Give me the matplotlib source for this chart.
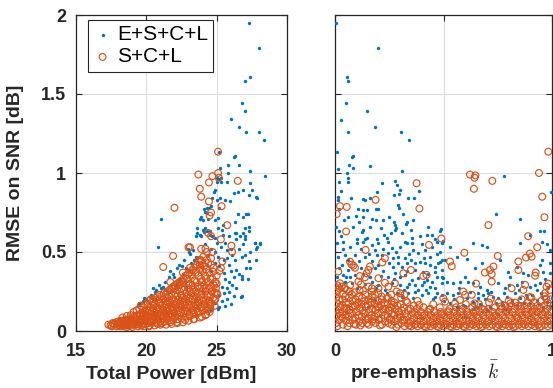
import matplotlib
matplotlib.use("Agg")
import matplotlib.pyplot as plt

plt.rcParams['font.family'] = ['Liberation Sans', 'DejaVu Sans']
plt.rcParams['mathtext.fontset'] = 'cm'

BLUE = '#0072BD'
ORANGE = '#D95319'

# ---------------- data: left panel (Total Power [dBm], RMSE [dB]) ----------------
left_blue = [
 (27.3,1.95),(28.0,1.79),(27.4,1.61),(27.0,1.58),(26.8,1.44),(27.0,1.39),(26.0,1.34),(26.6,1.29),
 (27.1,1.26),(28.0,1.26),(28.4,1.21),(25.2,1.13),(26.2,1.10),(26.3,1.11),(25.8,1.05),(26.6,1.05),
 (25.25,1.03),(25.8,1.00),(27.4,1.01),(28.45,0.98),(25.0,0.97),(25.15,0.965),(25.3,0.97),(25.0,0.94),
 (25.3,0.94),(25.75,0.94),(27.4,0.935),(26.9,0.89),(27.5,0.89),(26.2,0.875),(26.5,0.88),(27.3,0.86),
 (27.85,0.84),(24.8,0.88),(24.85,0.89),(24.7,0.84),(25.0,0.83),(25.25,0.84),(25.6,0.83),(25.95,0.82),
 (24.6,0.79),(25.2,0.78),(24.3,0.78),(24.45,0.78),(24.1,0.77),(24.15,0.755),(24.3,0.745),(26.5,0.74),
 (26.85,0.72),(27.2,0.74),(23.9,0.72),(23.85,0.71),(24.0,0.70),(24.4,0.71),(25.1,0.715),(24.9,0.70),
 (23.6,0.65),(24.05,0.64),(24.2,0.65),(24.55,0.63),(26.3,0.69),(26.3,0.62),(26.65,0.60),(27.3,0.63),
 (27.0,0.58),(25.45,0.67),(25.35,0.64),(25.1,0.65),(23.5,0.60),(23.9,0.60),(24.7,0.60),
 (21.05,0.71),(20.85,0.53),(26.75,0.215),(27.8,0.85),(28.1,0.56),(27.75,0.56),(27.9,0.53),(27.1,0.74),
 (27.0,0.65),(27.3,0.66),(27.4,0.40),(26.8,0.47),(27.0,0.48),(25.2,0.15),(19.5,0.165),
 (23.6,0.62),(23.85,0.61),(24.1,0.625),(24.3,0.63),(24.5,0.61),(24.85,0.59),(25.0,0.56),(25.45,0.61),
 (25.9,0.60),(26.4,0.58),(26.4,0.62),(26.9,0.62),(27.0,0.60),(27.7,0.56),(28.1,0.55),(27.8,0.52),
 (23.0,0.50),(23.1,0.49),(22.95,0.52),(23.3,0.51),(23.55,0.47),(23.4,0.45),(22.3,0.42),(22.5,0.41),
 (22.2,0.40),(22.8,0.40),(21.7,0.38),(21.9,0.36),(21.6,0.34),(22.0,0.34),(20.9,0.29),(21.2,0.28),
 (21.05,0.27),(21.4,0.26),(20.7,0.26),(20.6,0.25),(20.5,0.27),(19.75,0.19),(19.5,0.18),(19.95,0.20),
 (19.85,0.21),(20.4,0.21),(25.7,0.51),(26.1,0.48),(26.3,0.45),(25.5,0.45),(25.85,0.42),(26.4,0.385),
 (26.6,0.36),(26.8,0.35),(26.2,0.34),(25.6,0.33),(25.9,0.31),(25.4,0.28),(25.7,0.27),(25.5,0.24),
 (25.2,0.23),(25.7,0.20),(26.8,0.22),(25.1,0.14),(27.1,0.40),(27.8,0.45),(27.3,0.44),(26.8,0.33),
 (27.2,0.33),(24.2,0.55),(24.6,0.52),(24.9,0.50),(25.3,0.53),(25.6,0.56),(24.4,0.48),(25.1,0.47),
 (25.7,0.46),(26.0,0.52),(26.6,0.52),(26.9,0.55),(27.4,0.50),(24.3,0.42),(24.9,0.43),(25.2,0.41),
 (24.6,0.38),(25.5,0.37),(26.0,0.38),(26.1,0.29),(26.4,0.27),(25.9,0.25),(26.2,0.22),(25.4,0.19),
 (24.9,0.18),(26.0,0.17),(25.6,0.16),(24.6,0.13),(23.6,0.46),(23.2,0.43),(22.7,0.45),(22.6,0.36),
 (23.0,0.38),(22.4,0.33),(21.3,0.31),(20.3,0.23),(22.8,0.28),(22.2,0.30),
 (18.5,0.05),(19.5,0.08),(20.5,0.10),(21.5,0.12),(22.5,0.15),(23.5,0.20),(24.0,0.25),(21.0,0.07),
 (22.0,0.10),(23.0,0.14),
]

left_orange = [
 (17.3,0.04),(20.3,0.20),(21.2,0.405),(21.9,0.475),(22.0,0.78),(23.0,0.53),(23.7,0.99),(23.8,0.90),
 (23.9,0.85),(24.45,0.94),(24.45,0.82),(24.7,0.98),(25.1,1.00),(25.15,0.97),(25.1,1.135),(26.5,0.95),
 (25.35,0.79),(24.6,0.75),(24.5,0.73),(25.75,0.67),(24.4,0.62),(24.6,0.60),(25.3,0.58),(23.9,0.52),
 (24.2,0.52),(26.05,0.54),(26.1,0.50),(24.6,0.46),(23.8,0.42),(23.85,0.40),(25.2,0.38),(25.0,0.30),
 (24.5,0.17),(21.7,0.31),(22.6,0.37),(23.1,0.53),(25.0,0.24),(24.75,0.375),(25.3,0.40),(25.4,0.44),
 (17.45,0.035),(17.6,0.05),(17.55,0.03),(17.75,0.04),(17.85,0.055),(17.9,0.03),
 (18.05,0.035),(18.1,0.05),(18.2,0.065),(18.25,0.04),(18.35,0.03),(18.4,0.055),(18.5,0.07),(18.55,0.04),
 (18.65,0.035),(18.7,0.06),(18.8,0.08),(18.85,0.045),(18.95,0.035),(19.0,0.065),(19.1,0.09),(19.15,0.05),
 (19.25,0.04),(19.3,0.07),(19.35,0.10),(19.45,0.055),(19.5,0.04),(19.6,0.075),(19.62,0.11),(19.7,0.06),
 (19.72,0.09),(19.8,0.045),(19.9,0.08),(19.92,0.12),(19.98,0.06),(20.0,0.10),
 (20.1,0.05),(20.15,0.085),(20.2,0.13),(20.25,0.065),(20.3,0.11),(20.28,0.15),
 (20.4,0.05),(20.45,0.09),(20.5,0.14),(20.55,0.07),(20.6,0.115),(20.58,0.17),
 (20.7,0.055),(20.75,0.095),(20.8,0.15),(20.85,0.075),(20.9,0.12),(20.88,0.18),
 (21.0,0.06),(21.05,0.10),(21.1,0.16),(21.15,0.08),(21.2,0.13),(21.18,0.20),
 (21.3,0.06),(21.35,0.105),(21.4,0.17),(21.45,0.085),(21.5,0.14),(21.48,0.21),
 (21.6,0.065),(21.65,0.11),(21.7,0.18),(21.75,0.09),(21.8,0.15),(21.78,0.23),
 (21.9,0.07),(21.95,0.12),(22.0,0.19),(22.05,0.095),(22.1,0.16),(22.08,0.24),(22.0,0.27),
 (22.2,0.075),(22.25,0.13),(22.3,0.20),(22.35,0.10),(22.4,0.17),(22.38,0.25),(22.3,0.29),
 (22.5,0.08),(22.55,0.14),(22.6,0.21),(22.65,0.11),(22.7,0.18),(22.68,0.26),(22.6,0.31),
 (22.8,0.09),(22.85,0.15),(22.9,0.22),(22.95,0.12),(23.0,0.19),(22.98,0.27),(22.9,0.33),
 (23.1,0.095),(23.15,0.16),(23.2,0.24),(23.25,0.13),(23.3,0.20),(23.28,0.29),(23.2,0.35),
 (23.4,0.105),(23.45,0.17),(23.5,0.25),(23.55,0.14),(23.6,0.21),(23.58,0.31),(23.5,0.37),
 (23.7,0.115),(23.75,0.18),(23.8,0.27),(23.85,0.15),(23.9,0.23),(23.88,0.33),(23.8,0.39),(23.75,0.45),
 (24.0,0.13),(24.05,0.20),(24.1,0.29),(24.15,0.17),(24.2,0.25),(24.18,0.35),(24.1,0.41),(24.05,0.47),
 (24.3,0.15),(24.35,0.22),(24.4,0.31),(24.45,0.19),(24.5,0.27),(24.48,0.37),(24.4,0.43),
 (24.6,0.18),(24.65,0.25),(24.7,0.33),(24.75,0.21),(24.8,0.29),(24.78,0.40),
 (24.9,0.20),(24.95,0.27),(25.0,0.35),(25.05,0.23),
 (17.65,0.045),(17.95,0.045),(18.15,0.03),(18.3,0.06),(18.45,0.04),(18.62,0.07),(18.75,0.035),(18.9,0.06),
 (19.05,0.045),(19.2,0.08),(19.4,0.045),(19.55,0.095),(19.65,0.035),(19.85,0.10),(19.95,0.045),(20.05,0.13),
 (20.2,0.035),(20.35,0.075),(20.5,0.16),(20.65,0.085),(20.8,0.045),(20.95,0.14),(21.1,0.05),(21.25,0.115),
 (21.4,0.19),(21.55,0.095),(21.7,0.055),(21.85,0.20),(21.95,0.15),(22.15,0.055),(22.2,0.22),(22.45,0.115),
 (22.5,0.27),(22.75,0.07),(22.8,0.24),(23.05,0.165),(23.1,0.30),(23.35,0.075),(23.35,0.26),(23.65,0.19),
 (23.7,0.35),(23.95,0.09),(23.95,0.28),(24.25,0.105),(24.25,0.39),(24.55,0.33),(24.55,0.14),(24.85,0.24),
 (24.85,0.16),(23.4,0.32),(23.0,0.29),(22.45,0.30),(24.3,0.45),(23.9,0.44),(24.7,0.50),
 (18.0,0.06),(18.3,0.045),(18.6,0.055),(18.9,0.075),(19.2,0.06),(19.3,0.095),(19.5,0.065),(19.75,0.075),
 (19.8,0.11),(20.05,0.075),(20.1,0.115),(20.35,0.055),(20.4,0.125),(20.6,0.10),(20.7,0.135),(20.95,0.105),
 (21.0,0.175),(21.2,0.095),(21.25,0.15),(21.55,0.125),(21.6,0.19),(21.85,0.10),(21.85,0.135),(21.9,0.17),
 (22.15,0.145),(22.15,0.18),(22.2,0.11),(22.45,0.155),(22.45,0.19),(22.5,0.225),(22.75,0.125),(22.75,0.165),
 (22.75,0.20),(23.05,0.105),(23.05,0.21),(23.1,0.25),(23.35,0.115),(23.35,0.155),(23.35,0.225),(23.65,0.125),
 (23.65,0.16),(23.65,0.24),(23.65,0.28),(23.95,0.15),(23.95,0.19),(23.95,0.25),(23.95,0.31),(24.25,0.135),
 (24.25,0.20),(24.25,0.27),(24.25,0.33),(24.55,0.16),(24.55,0.22),(24.6,0.28),(24.85,0.20),(24.9,0.31),
 (23.5,0.41),(24.0,0.38),(24.6,0.42),(22.2,0.26),(21.6,0.22),(20.9,0.20),(23.1,0.40),(24.3,0.50),
 (18.3,0.085),(18.6,0.095),(18.9,0.10),(19.1,0.12),(19.3,0.13),(19.5,0.14),(19.6,0.16),(19.8,0.15),
 (19.9,0.17),(20.1,0.17),(20.2,0.19),(20.4,0.185),(20.5,0.20),(20.65,0.21),(20.8,0.22),(20.95,0.23),
 (21.1,0.22),(21.25,0.24),(21.4,0.235),(21.5,0.25),(21.65,0.26),(21.8,0.27),(21.9,0.28),(22.05,0.29),
 (22.2,0.30),(22.35,0.31),(22.5,0.32),(22.65,0.33),(22.8,0.35),(22.95,0.36),(23.1,0.37),(23.25,0.385),
 (23.4,0.40),(23.6,0.42),(23.85,0.45),
 (18.6,0.025),(19.0,0.025),(19.4,0.03),(19.8,0.03),(20.2,0.03),(20.6,0.035),(21.0,0.04),(21.4,0.04),
 (21.8,0.045),(22.2,0.05),(22.6,0.055),(23.0,0.065),(23.4,0.075),(23.8,0.085),(24.2,0.10),(24.5,0.12),
]

# ---------------- data: right panel (pre-emphasis k, RMSE [dB]) ----------------
right_blue = [
 (0.005,1.95),(0.197,1.79),(0.057,1.61),(0.059,1.58),(0.051,1.44),(0.146,1.39),(0.028,1.335),(0.183,1.29),
 (0.058,1.26),(0.303,1.26),(0.343,1.21),(0.008,1.13),(0.078,1.10),(0.083,1.11),(0.065,1.05),(0.082,1.03),
 (0.014,1.025),(0.161,1.045),(0.057,1.00),(0.307,1.01),(0.060,0.97),(0.061,0.94),(0.020,0.945),(0.217,0.935),
 (0.278,0.95),(0.284,0.925),(0.779,0.98),(0.995,0.88),(0.029,0.885),(0.195,0.88),(0.27,0.86),(0.295,0.865),
 (0.300,0.89),(0.389,0.885),(0.013,0.85),(0.016,0.83),(0.073,0.84),(0.128,0.835),(0.140,0.83),(0.163,0.84),
 (0.336,0.84),(0.364,0.84),(0.29,0.80),(0.293,0.78),(0.105,0.77),(0.128,0.765),(0.149,0.765),(0.19,0.775),
 (0.20,0.775),(0.315,0.74),(0.36,0.70),(0.33,0.69),(0.325,0.68),(0.062,0.72),(0.095,0.725),(0.129,0.72),
 (0.169,0.71),(0.187,0.705),(0.223,0.70),(0.273,0.69),(0.276,0.67),(0.281,0.65),(0.277,0.64),(0.005,0.66),
 (0.018,0.63),(0.028,0.60),(0.131,0.64),(0.126,0.625),(0.147,0.59),(0.227,0.61),(0.238,0.59),(0.192,0.58),
 (0.35,0.64),(0.356,0.59),(0.422,0.605),(0.445,0.61),(0.484,0.63),(0.10,0.58),(0.138,0.58),(0.742,0.74),
 (0.854,0.71),(0.487,0.645),(0.945,0.63),(0.963,0.635),(0.90,0.61),
 (0.008,0.555),(0.038,0.566),(0.10,0.555),(0.131,0.566),(0.169,0.545),(0.20,0.555),(0.184,0.513),(0.246,0.566),
 (0.261,0.523),(0.30,0.534),(0.323,0.566),(0.353,0.555),(0.361,0.513),(0.384,0.492),(0.415,0.513),(0.446,0.534),
 (0.469,0.566),(0.492,0.555),(0.484,0.503),(0.015,0.471),(0.046,0.482),(0.092,0.482),(0.138,0.471),(0.192,0.482),
 (0.215,0.482),(0.246,0.492),(0.269,0.461),(0.292,0.471),(0.323,0.461),(0.330,0.429),(0.369,0.429),(0.392,0.439),
 (0.415,0.429),(0.438,0.418),(0.461,0.408),(0.476,0.429),(0.492,0.450),(0.031,0.418),(0.061,0.386),(0.184,0.397),
 (0.269,0.408),(0.307,0.408),(0.369,0.386),(0.407,0.376),(0.461,0.376),(0.492,0.386),(0.008,0.344),(0.038,0.355),
 (0.069,0.344),(0.092,0.355),(0.246,0.344),(0.277,0.365),(0.30,0.344),(0.323,0.355),(0.353,0.323),(0.384,0.334),
 (0.422,0.323),(0.446,0.313),(0.469,0.344),(0.499,0.334),(0.0,0.302),(0.046,0.313),(0.077,0.302),(0.169,0.313),
 (0.20,0.292),(0.261,0.302),(0.30,0.292),(0.330,0.281),(0.369,0.292),(0.40,0.292),(0.438,0.281),(0.461,0.271),
 (0.492,0.302),(0.23,0.26),(0.384,0.26),(0.184,0.196),(0.284,0.239),(0.307,0.218),(0.338,0.239),(0.369,0.25),
 (0.40,0.229),(0.43,0.239),(0.461,0.218),(0.492,0.229),
 (0.53,0.534),(0.496,0.572),(0.638,0.559),(0.676,0.545),(0.699,0.53),(0.853,0.555),(0.952,0.566),(0.976,0.55),
 (0.991,0.428),(0.952,0.449),(0.991,0.513),(0.484,0.439),(0.507,0.449),(0.561,0.47),(0.607,0.454),(0.645,0.397),
 (0.676,0.428),(0.76,0.449),(0.799,0.376),(0.807,0.344),(0.837,0.407),(0.868,0.365),(0.891,0.355),(0.945,0.418),
 (0.96,0.376),(0.991,0.365),(0.492,0.344),(0.515,0.313),(0.545,0.302),(0.576,0.313),(0.599,0.344),(0.614,0.313),
 (0.638,0.302),(0.668,0.281),(0.699,0.26),(0.753,0.302),(0.784,0.271),(0.837,0.292),(0.86,0.313),(0.899,0.281),
 (0.929,0.26),(0.945,0.302),(0.983,0.281),(0.515,0.239),(0.545,0.229),(0.568,0.239),(0.607,0.207),(0.638,0.186),
 (0.661,0.207),(0.684,0.229),(0.707,0.239),(0.73,0.218),(0.753,0.207),(0.768,0.186),(0.791,0.218),(0.814,0.196),
 (0.83,0.239),(0.853,0.207),(0.883,0.207),(0.906,0.229),(0.929,0.196),(0.952,0.218),(0.976,0.186),(0.998,0.207),
 (0.53,0.175),(0.591,0.165),(0.653,0.154),(0.714,0.154),(0.776,0.165),(0.837,0.165),(0.899,0.175),(0.96,0.154),
 (0.05,0.12),(0.15,0.15),(0.25,0.10),(0.40,0.08),(0.60,0.09),(0.75,0.11),(0.90,0.10),
 (0.02,0.77),(0.04,0.70),(0.085,0.66),(0.11,0.69),(0.16,0.66),(0.21,0.65),(0.25,0.72),(0.26,0.62),
 (0.31,0.62),(0.33,0.56),(0.39,0.60),(0.40,0.55),(0.43,0.66),(0.46,0.58),(0.47,0.49),(0.44,0.47),
 (0.035,0.52),(0.07,0.53),(0.12,0.52),(0.155,0.49),(0.22,0.52),(0.28,0.50),(0.34,0.49),(0.41,0.46),
 (0.06,0.45),(0.11,0.44),(0.17,0.44),(0.20,0.42),(0.25,0.43),(0.29,0.43),(0.35,0.45),(0.02,0.40),
 (0.12,0.40),(0.22,0.38),(0.33,0.38),(0.43,0.36),(0.05,0.34),(0.13,0.36),(0.16,0.34),(0.21,0.35),
 (0.27,0.33),(0.34,0.30),(0.41,0.31),(0.10,0.27),(0.14,0.30),(0.19,0.27),(0.24,0.24),(0.32,0.26),
 (0.36,0.21),(0.42,0.26),(0.47,0.24),(0.45,0.20),(0.50,0.19),(0.55,0.20),(0.57,0.27),(0.62,0.25),
 (0.66,0.24),(0.69,0.20),(0.72,0.25),(0.78,0.24),(0.80,0.29),(0.85,0.26),(0.88,0.23),(0.92,0.29),
 (0.95,0.24),(0.97,0.33),(0.60,0.16),(0.67,0.17),(0.74,0.18),(0.82,0.17),(0.87,0.18),(0.94,0.17),
 (0.99,0.16),(0.56,0.15),(0.64,0.14),(0.70,0.13),(0.79,0.14),(0.90,0.14),
]

right_orange = [
 (0.983,1.135),(0.622,0.99),(0.647,0.985),(0.643,0.97),(0.94,1.00),(0.725,0.95),(0.376,0.935),(0.64,0.90),
 (0.955,0.85),(0.187,0.83),(0.389,0.775),(0.023,0.79),(0.054,0.785),(0.008,0.74),(0.051,0.63),(0.49,0.585),
 (0.965,0.72),(0.707,0.67),(0.89,0.60),
 (0.433,0.545),(0.141,0.513),(0.23,0.46),(0.218,0.434),(0.069,0.439),(0.077,0.42),(0.085,0.413),(0.092,0.40),
 (0.161,0.408),(0.154,0.386),(0.146,0.365),(0.35,0.386),(0.015,0.376),(0.315,0.365),(0.407,0.348),(0.422,0.355),
 (0.115,0.348),(0.138,0.34),(0.108,0.313),(0.20,0.334),(0.23,0.305),(0.246,0.281),(0.276,0.302),(0.023,0.302),
 (0.031,0.281),(0.054,0.26),(0.154,0.281),(0.169,0.25),(0.184,0.229),(0.215,0.218),(0.284,0.25),(0.30,0.239),
 (0.932,0.53),(0.596,0.495),(0.75,0.475),(0.88,0.465),(0.906,0.47),(0.898,0.49),(0.53,0.44),(0.538,0.41),
 (0.845,0.44),(0.845,0.386),(0.73,0.408),(0.714,0.386),(0.691,0.37),(0.722,0.36),(0.722,0.313),(0.925,0.37),
 (0.922,0.35),(0.65,0.30),(0.983,0.30),(0.975,0.28),(0.968,0.24),(0.99,0.26),(0.876,0.292),(0.868,0.26),
 (0.814,0.27),(0.591,0.25),(0.599,0.229),(0.63,0.229),(0.576,0.196),(0.499,0.207),(0.507,0.186),(0.553,0.175),
 (0.004,0.05),(0.006,0.095),(0.003,0.13),(0.008,0.175),(0.005,0.21),(0.007,0.245),
 (0.021,0.07),(0.019,0.115),(0.022,0.15),(0.018,0.195),(0.02,0.27),
 (0.036,0.04),(0.034,0.085),(0.037,0.12),(0.033,0.165),(0.035,0.2),(0.038,0.235),
 (0.051,0.065),(0.049,0.1),(0.052,0.145),(0.05,0.18),(0.048,0.22),
 (0.066,0.05),(0.064,0.09),(0.067,0.135),(0.063,0.17),(0.065,0.21),(0.068,0.25),
 (0.081,0.07),(0.079,0.11),(0.082,0.155),(0.08,0.19),(0.078,0.23),
 (0.096,0.04),(0.094,0.085),(0.097,0.12),(0.093,0.16),(0.095,0.2),
 (0.111,0.06),(0.109,0.1),(0.112,0.145),(0.108,0.18),(0.11,0.22),(0.113,0.26),
 (0.126,0.05),(0.124,0.09),(0.127,0.13),(0.123,0.17),(0.125,0.21),
 (0.141,0.07),(0.139,0.11),(0.142,0.155),(0.138,0.19),(0.14,0.23),
 (0.156,0.04),(0.154,0.08),(0.157,0.12),(0.153,0.165),(0.155,0.2),
 (0.171,0.06),(0.169,0.1),(0.172,0.14),(0.168,0.18),(0.17,0.22),
 (0.186,0.05),(0.184,0.09),(0.187,0.135),(0.183,0.17),
 (0.201,0.07),(0.199,0.11),(0.202,0.15),(0.198,0.19),(0.2,0.24),
 (0.216,0.04),(0.214,0.08),(0.217,0.12),(0.213,0.165),(0.215,0.2),
 (0.231,0.06),(0.229,0.1),(0.232,0.14),(0.228,0.18),
 (0.246,0.05),(0.244,0.09),(0.247,0.13),(0.243,0.17),(0.245,0.21),
 (0.261,0.04),(0.259,0.07),(0.262,0.11),(0.258,0.15),(0.26,0.19),
 (0.276,0.06),(0.274,0.1),(0.277,0.14),(0.273,0.18),
 (0.291,0.04),(0.289,0.08),(0.292,0.12),(0.288,0.16),
 (0.306,0.05),(0.304,0.09),(0.307,0.13),(0.303,0.17),(0.305,0.21),
 (0.321,0.03),(0.319,0.07),(0.322,0.11),(0.318,0.15),
 (0.336,0.05),(0.334,0.09),(0.337,0.13),(0.333,0.18),
 (0.351,0.03),(0.349,0.06),(0.352,0.1),(0.348,0.14),
 (0.366,0.04),(0.364,0.08),(0.367,0.12),(0.363,0.16),
 (0.381,0.03),(0.379,0.06),(0.382,0.1),(0.378,0.14),(0.38,0.19),
 (0.396,0.04),(0.394,0.08),(0.397,0.12),
 (0.411,0.03),(0.409,0.06),(0.412,0.1),(0.408,0.15),
 (0.426,0.04),(0.424,0.08),(0.427,0.12),
 (0.441,0.03),(0.439,0.06),(0.442,0.1),(0.438,0.14),
 (0.456,0.04),(0.454,0.08),(0.457,0.12),(0.453,0.17),
 (0.471,0.03),(0.469,0.06),(0.472,0.1),
 (0.486,0.04),(0.484,0.08),(0.487,0.12),(0.483,0.15),
 (0.501,0.03),(0.499,0.06),(0.502,0.1),
 (0.516,0.04),(0.514,0.08),(0.517,0.12),
 (0.531,0.03),(0.529,0.06),(0.532,0.1),(0.528,0.14),
 (0.546,0.04),(0.544,0.08),(0.547,0.12),
 (0.561,0.03),(0.559,0.06),(0.562,0.1),(0.558,0.15),
 (0.576,0.04),(0.574,0.08),(0.577,0.12),
 (0.591,0.03),(0.589,0.06),(0.592,0.1),(0.588,0.14),
 (0.606,0.04),(0.604,0.08),(0.607,0.12),(0.603,0.17),
 (0.621,0.03),(0.619,0.06),(0.622,0.1),
 (0.636,0.04),(0.634,0.08),(0.637,0.12),(0.633,0.15),
 (0.651,0.03),(0.649,0.06),(0.652,0.1),(0.648,0.13),
 (0.666,0.04),(0.664,0.08),(0.667,0.12),(0.663,0.17),
 (0.681,0.03),(0.679,0.06),(0.682,0.1),(0.678,0.14),
 (0.696,0.04),(0.694,0.08),(0.697,0.12),
 (0.711,0.03),(0.709,0.06),(0.712,0.1),(0.708,0.14),(0.71,0.18),
 (0.726,0.04),(0.724,0.08),(0.727,0.12),
 (0.741,0.03),(0.739,0.06),(0.742,0.1),(0.738,0.15),
 (0.756,0.04),(0.754,0.08),(0.757,0.12),(0.753,0.18),
 (0.771,0.03),(0.769,0.06),(0.772,0.1),(0.768,0.14),
 (0.786,0.04),(0.784,0.08),(0.787,0.12),(0.783,0.16),
 (0.801,0.03),(0.799,0.06),(0.802,0.1),(0.798,0.14),(0.8,0.19),
 (0.816,0.04),(0.814,0.08),(0.817,0.12),(0.813,0.16),
 (0.831,0.03),(0.829,0.06),(0.832,0.1),(0.828,0.14),(0.83,0.18),
 (0.846,0.04),(0.844,0.08),(0.847,0.12),(0.843,0.16),
 (0.861,0.03),(0.859,0.06),(0.862,0.1),(0.858,0.14),(0.86,0.2),
 (0.876,0.04),(0.874,0.08),(0.877,0.12),(0.873,0.16),
 (0.891,0.03),(0.889,0.06),(0.892,0.1),(0.888,0.14),(0.89,0.18),
 (0.906,0.04),(0.904,0.08),(0.907,0.12),(0.903,0.16),(0.905,0.21),
 (0.921,0.03),(0.919,0.06),(0.922,0.1),(0.918,0.14),(0.92,0.18),
 (0.936,0.04),(0.934,0.08),(0.937,0.12),(0.933,0.16),
 (0.951,0.03),(0.949,0.06),(0.952,0.1),(0.948,0.14),(0.95,0.19),
 (0.966,0.04),(0.964,0.08),(0.967,0.12),(0.963,0.16),(0.965,0.22),
 (0.981,0.03),(0.979,0.06),(0.982,0.1),(0.978,0.14),(0.98,0.18),
 (0.996,0.04),(0.994,0.08),(0.997,0.12),(0.993,0.16),(0.995,0.2),
 (0.01,0.03),(0.027,0.095),(0.043,0.145),(0.012,0.26),(0.058,0.03),(0.072,0.115),(0.088,0.045),(0.102,0.17),
 (0.117,0.035),(0.133,0.115),(0.148,0.05),(0.162,0.185),(0.178,0.075),(0.193,0.155),(0.207,0.035),(0.222,0.135),
 (0.238,0.205),(0.252,0.075),(0.268,0.165),(0.283,0.025),(0.297,0.105),(0.312,0.065),(0.327,0.19),(0.342,0.035),
 (0.357,0.115),(0.372,0.045),(0.388,0.165),(0.403,0.095),(0.418,0.025),(0.433,0.135),(0.448,0.055),(0.463,0.085),
 (0.478,0.025),(0.493,0.105),(0.508,0.045),(0.523,0.125),(0.538,0.025),(0.553,0.085),(0.568,0.045),(0.583,0.125),
 (0.598,0.025),(0.613,0.105),(0.628,0.045),(0.643,0.175),(0.658,0.085),(0.673,0.025),(0.688,0.135),(0.703,0.055),
 (0.718,0.205),(0.733,0.095),(0.748,0.025),(0.763,0.155),(0.778,0.045),(0.793,0.125),(0.808,0.175),(0.823,0.025),
 (0.838,0.085),(0.853,0.155),(0.868,0.045),(0.883,0.105),(0.898,0.215),(0.913,0.055),(0.928,0.125),(0.943,0.025),
 (0.958,0.105),(0.973,0.205),(0.988,0.065),
 (0.01,0.29),(0.045,0.27),(0.09,0.245),(0.13,0.255),(0.17,0.27),(0.20,0.27),(0.26,0.23),(0.32,0.23),
 (0.12,0.295),(0.07,0.29),
]

series_labels = ['E+S+C+L', 'S+C+L']
yticks = [0, 0.5, 1, 1.5, 2]
ytick_labels = ['0', '0.5', '1', '1.5', '2']
left_xticks = [15, 20, 25, 30]
right_xticks = [0, 0.5, 1]
right_xtick_labels = ['0', '0.5', '1']

# ---------------- figure ----------------
W, H = 553, 388
fig = plt.figure(figsize=(W / 100, H / 100), dpi=100)
axL = fig.add_axes([76 / W, 1 - 331 / H, 211 / W, 316 / H])
axR = fig.add_axes([335 / W, 1 - 331 / H, 217 / W, 316 / H])

blue_kw = dict(s=6, color=BLUE, linewidths=0, zorder=3)
orange_kw = dict(s=24, facecolors='none', edgecolors=ORANGE, linewidths=0.85, zorder=4)

def unzip(pts):
    return [p[0] for p in pts], [p[1] for p in pts]

bx, by = unzip(left_blue)
ox, oy = unzip(left_orange)
axL.scatter(bx, by, label=series_labels[0], **blue_kw)
axL.scatter(ox, oy, label=series_labels[1], **orange_kw)

bx, by = unzip(right_blue)
ox, oy = unzip(right_orange)
axR.scatter(bx, by, **blue_kw)
axR.scatter(ox, oy, **orange_kw)

for ax in (axL, axR):
    ax.set_ylim(0, 2)
    ax.set_yticks(yticks)
    ax.grid(True, color='#dcdcdc', linewidth=0.8, zorder=0)
    ax.set_axisbelow(True)
    ax.tick_params(direction='in', length=4, width=0.8, top=True, right=True,
                   labelsize=13, colors='#262626')
    ax.tick_params(axis='x', pad=9)
    ax.tick_params(axis='y', pad=7)
    for sp in ax.spines.values():
        sp.set_color('#262626')
        sp.set_linewidth(0.9)

axL.set_xlim(15, 30)
axL.set_xticks(left_xticks)
axL.set_xticklabels([str(v) for v in left_xticks], fontweight='bold', fontsize=13)
axL.set_yticklabels(ytick_labels, fontweight='bold', fontsize=13)
axL.set_xlabel('Total Power [dBm]', fontsize=14, fontweight='bold', color='#262626',
               va='baseline')
axL.xaxis.set_label_coords(0.45, -0.152)
axL.set_ylabel('RMSE on SNR [dB]', fontsize=14, fontweight='bold', color='#262626')
axL.yaxis.set_label_coords(-0.245, 0.5)

axR.set_xlim(0, 1)
axR.set_xticks(right_xticks)
axR.set_xticklabels(right_xtick_labels, fontweight='bold', fontsize=13)
axR.set_yticklabels([])
axR.set_xlabel(r'pre-emphasis  $\bar{k}$', fontsize=14, fontweight='bold', color='#262626',
               va='baseline')
axR.xaxis.set_label_coords(0.415, -0.152)

leg = axL.legend(loc='upper left', bbox_to_anchor=(0.057, 0.984), borderaxespad=0,
                 fontsize=15, frameon=True, fancybox=False, handletextpad=0.25,
                 handlelength=0.9, borderpad=0.25, labelspacing=0.15, markerscale=1.0)
leg.get_frame().set_edgecolor('#262626')
leg.get_frame().set_linewidth(0.8)
leg.get_frame().set_alpha(1)

fig.savefig('out.png', dpi=100)
